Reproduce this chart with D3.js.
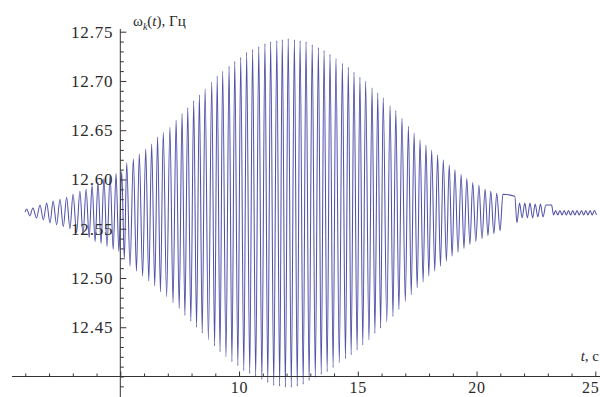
<!DOCTYPE html>
<html>
<head>
<meta charset="utf-8">
<script src="https://cdn.jsdelivr.net/npm/d3@7"></script>
<style>
  html, body { margin: 0; padding: 0; background: #fff; }
  svg { display: block; }
</style>
</head>
<body>
<svg id="chart" width="600" height="397"></svg>
<script>
// ω_k(t), Hz — frequency oscillation: local maxima, local minima and the settling tail.
const startT = [0.99];
const startV = [12.567];

const peakT = [
  1.06, 1.32, 1.62, 1.90, 2.17, 2.46, 2.74, 3.01, 3.30, 3.56,
  3.81, 4.06, 4.31, 4.57, 4.82, 5.06, 5.27, 5.55, 5.80, 6.07,
  6.32, 6.57, 6.81, 7.09, 7.35, 7.60, 7.84, 8.09, 8.33, 8.57,
  8.85, 9.08, 9.31, 9.58, 9.82, 10.07, 10.32, 10.57, 10.83, 11.09,
  11.33, 11.59, 11.82, 12.07, 12.33, 12.57, 12.82, 13.08, 13.34, 13.58,
  13.83, 14.08, 14.35, 14.60, 14.84, 15.09, 15.33, 15.60, 15.84, 16.07,
  16.36, 16.60, 16.86, 17.13, 17.37, 17.62, 17.87, 18.11, 18.36, 18.60,
  18.85, 19.09, 19.35, 19.59, 19.84, 20.10, 20.36, 20.60, 20.85
];
const peakV = [
  12.570, 12.571, 12.574, 12.576, 12.578, 12.580, 12.582, 12.585, 12.588, 12.590,
  12.594, 12.597, 12.601, 12.604, 12.606, 12.608, 12.617, 12.621, 12.626, 12.631,
  12.636, 12.643, 12.648, 12.653, 12.660, 12.667, 12.673, 12.680, 12.686, 12.692,
  12.699, 12.705, 12.710, 12.715, 12.720, 12.724, 12.729, 12.732, 12.735, 12.738,
  12.740, 12.741, 12.742, 12.743, 12.742, 12.741, 12.740, 12.737, 12.734, 12.731,
  12.727, 12.723, 12.718, 12.714, 12.709, 12.704, 12.700, 12.693, 12.688, 12.683,
  12.675, 12.670, 12.662, 12.654, 12.647, 12.640, 12.635, 12.630, 12.625, 12.620,
  12.615, 12.610, 12.605, 12.601, 12.597, 12.594, 12.590, 12.588, 12.586
];

const troughT = [
  1.19, 1.47, 1.76, 2.04, 2.32, 2.60, 2.88, 3.16, 3.43, 3.69,
  3.94, 4.19, 4.44, 4.70, 4.94, 5.17, 5.41, 5.68, 5.94, 6.20,
  6.45, 6.69, 6.95, 7.22, 7.48, 7.72, 7.97, 8.21, 8.45, 8.71,
  8.97, 9.20, 9.45, 9.70, 9.95, 10.20, 10.45, 10.70, 10.96, 11.21,
  11.46, 11.71, 11.95, 12.20, 12.45, 12.70, 12.95, 13.21, 13.46, 13.71,
  13.96, 14.22, 14.48, 14.72, 14.97, 15.21, 15.47, 15.72, 15.96, 16.22,
  16.48, 16.73, 17.00, 17.25, 17.50, 17.75, 17.99, 18.24, 18.48, 18.73,
  18.97, 19.22, 19.47, 19.72, 19.97, 20.23, 20.48, 20.73, 20.99
];
const troughV = [
  12.563, 12.561, 12.559, 12.556, 12.554, 12.552, 12.550, 12.546, 12.544, 12.541,
  12.537, 12.535, 12.532, 12.529, 12.527, 12.519, 12.512, 12.507, 12.502, 12.497,
  12.492, 12.486, 12.481, 12.475, 12.469, 12.462, 12.456, 12.450, 12.444, 12.437,
  12.431, 12.425, 12.420, 12.415, 12.411, 12.406, 12.403, 12.400, 12.397, 12.394,
  12.391, 12.390, 12.389, 12.389, 12.390, 12.392, 12.396, 12.399, 12.402, 12.405,
  12.409, 12.414, 12.418, 12.422, 12.427, 12.432, 12.437, 12.444, 12.449, 12.455,
  12.461, 12.468, 12.476, 12.483, 12.490, 12.496, 12.502, 12.507, 12.512, 12.517,
  12.522, 12.526, 12.530, 12.534, 12.537, 12.540, 12.543, 12.545, 12.548
];

// after t ≈ 21: short plateau, small oscillation, second plateau, residual ripple
const tailT = [
  21.11, 21.61, 21.70,
  21.81, 21.92, 22.03, 22.14, 22.25, 22.36, 22.47, 22.58, 22.69, 22.80,
  22.92, 23.16,
  23.24, 23.33, 23.42, 23.51, 23.60, 23.69, 23.78, 23.87, 23.96, 24.05,
  24.14, 24.23, 24.32, 24.42, 24.51, 24.60, 24.69, 24.78, 24.87, 24.96, 25.05
];
const tailV = [
  12.585, 12.583, 12.556,
  12.576, 12.561, 12.576, 12.561, 12.576, 12.561, 12.575, 12.562, 12.575, 12.562,
  12.574, 12.574,
  12.564, 12.5685, 12.564, 12.5685, 12.564, 12.5685, 12.564, 12.5685, 12.564, 12.5685,
  12.564, 12.5685, 12.564, 12.5685, 12.564, 12.5685, 12.564, 12.5685, 12.564, 12.5685, 12.564
];

const xMajorTicks = [5, 10, 15, 20, 25];
const xTickLabels = ["", "10", "15", "20", "25"];
const yMajorTicks = [12.45, 12.50, 12.55, 12.60, 12.65, 12.70, 12.75];
const yTickLabels = ["12.45", "12.50", "12.55", "12.60", "12.65", "12.70", "12.75"];

const svg = d3.select("#chart");
const x = d3.scaleLinear().domain([5, 25]).range([120.3, 595.3]);
const y = d3.scaleLinear().domain([12.40, 12.75]).range([376.5, 31.7]);

const points = []
  .concat(startT.map((t, i) => ({ t, v: startV[i] })))
  .concat(peakT.map((t, i) => ({ t, v: peakV[i] })))
  .concat(troughT.map((t, i) => ({ t, v: troughV[i] })))
  .concat(tailT.map((t, i) => ({ t, v: tailV[i] })))
  .sort((a, b) => a.t - b.t);

const line = d3.line()
  .x(d => x(d.t))
  .y(d => y(d.v))
  .curve(d3.curveMonotoneX);

svg.append("path")
  .datum(points)
  .attr("d", line)
  .attr("fill", "none")
  .attr("stroke", "#5252aa")
  .attr("stroke-width", 1.05)
  .attr("stroke-linejoin", "round");

// axes
const axisColor = "#333";
const fontFamily = "'Liberation Serif', 'Times New Roman', serif";
const x0 = x(5), y0 = y(12.40);

svg.append("line")
  .attr("x1", 12).attr("x2", 600).attr("y1", y0).attr("y2", y0)
  .attr("stroke", axisColor).attr("stroke-width", 1);
svg.append("line")
  .attr("x1", x0).attr("x2", x0).attr("y1", 29).attr("y2", 397)
  .attr("stroke", axisColor).attr("stroke-width", 1);

// y axis: minor ticks every 0.01, major ticks with labels
const yMinor = d3.range(12.39, 12.7501, 0.01).filter(v => !yMajorTicks.some(m => Math.abs(m - v) < 1e-6));
svg.append("g")
  .attr("transform", `translate(${x0},0)`)
  .call(d3.axisLeft(y).tickValues(yMinor).tickSizeInner(-3.5).tickSizeOuter(0).tickFormat(""))
  .call(g => g.select(".domain").remove())
  .call(g => g.selectAll("line").attr("stroke", axisColor));

svg.append("g")
  .attr("transform", `translate(${x0},0)`)
  .call(d3.axisLeft(y).tickValues(yMajorTicks).tickSizeInner(-6).tickSizeOuter(0).tickPadding(7)
    .tickFormat((d, i) => yTickLabels[i]))
  .call(g => g.select(".domain").remove())
  .call(g => g.selectAll("line").attr("stroke", axisColor))
  .call(g => g.selectAll("text")
    .attr("fill", "#2a2a2a")
    .style("font-family", fontFamily)
    .style("font-size", "17px")
    .style("letter-spacing", "0.8px"));

// x axis: minor ticks every 1, major ticks with labels
const xMinor = d3.range(1, 26, 1).filter(v => !xMajorTicks.includes(v));
svg.append("g")
  .attr("transform", `translate(0,${y0})`)
  .call(d3.axisBottom(x).tickValues(xMinor).tickSizeInner(-3).tickSizeOuter(0).tickFormat(""))
  .call(g => g.select(".domain").remove())
  .call(g => g.selectAll("line").attr("stroke", axisColor));

svg.append("g")
  .attr("transform", `translate(0,${y0})`)
  .call(d3.axisBottom(x).tickValues(xMajorTicks).tickSizeInner(-5).tickSizeOuter(0).tickPadding(5.5)
    .tickFormat((d, i) => xTickLabels[i]))
  .call(g => g.select(".domain").remove())
  .call(g => g.selectAll("line").attr("stroke", axisColor))
  .call(g => g.selectAll("text")
    .attr("fill", "#2a2a2a")
    .style("font-family", fontFamily)
    .style("font-size", "16px")
    .style("letter-spacing", "0.8px"))
  // the last label sits at the right edge, so it is right-aligned to stay inside
  .call(g => g.selectAll(".tick").filter(d => d === 25).select("text")
    .attr("text-anchor", "end")
    .attr("x", 600 - x(25) - 1));

// axis titles
const yTitle = svg.append("text")
  .attr("x", 133).attr("y", 26)
  .attr("fill", "#2a2a2a")
  .style("font-family", fontFamily)
  .style("font-size", "15px");
yTitle.append("tspan").text("ω");
yTitle.append("tspan").attr("dy", 3.5).style("font-size", "10px").style("font-style", "italic").text("k");
yTitle.append("tspan").attr("dy", -3.5).text("(");
yTitle.append("tspan").style("font-style", "italic").text("t");
yTitle.append("tspan").text("), Гц");

const xTitle = svg.append("text")
  .attr("x", 599).attr("y", 361)
  .attr("text-anchor", "end")
  .attr("fill", "#2a2a2a")
  .style("font-family", fontFamily)
  .style("font-size", "15px");
xTitle.append("tspan").style("font-style", "italic").text("t");
xTitle.append("tspan").text(", с");
</script>
</body>
</html>
